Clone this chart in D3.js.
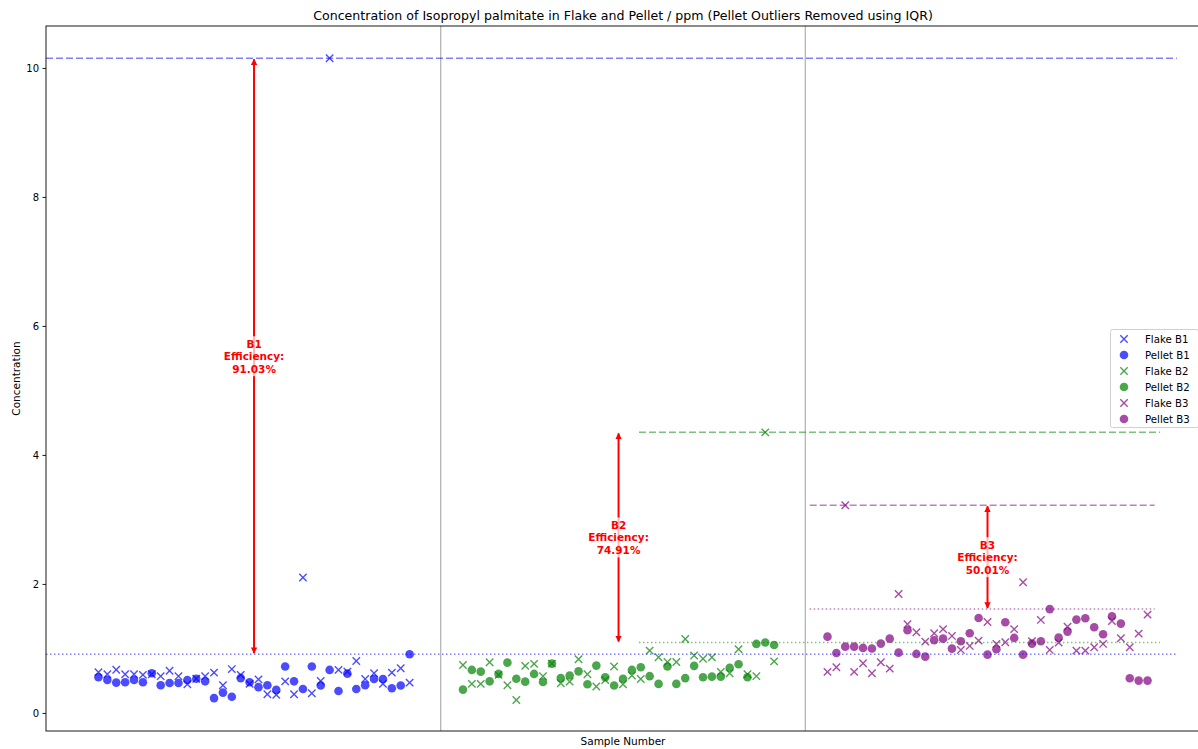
<!DOCTYPE html>
<html>
<head>
<meta charset="utf-8">
<script src="https://cdn.jsdelivr.net/npm/d3@7/dist/d3.min.js"></script>
<style>
  html, body { margin: 0; padding: 0; background: #fff; }
  svg { display: block; font-family: "DejaVu Sans", sans-serif; }
</style>
</head>
<body>
<svg id="chart" width="1198" height="749"></svg>
<script>
// Concentration readings per sample (ppm)
const batches = ["B1", "B2", "B3"];
const flakeB1 = [0.63, 0.60, 0.67, 0.60, 0.60, 0.59, 0.60, 0.57, 0.655, 0.57, 0.445, 0.53, 0.57, 0.625, 0.43, 0.68, 0.59, 0.45, 0.52, 0.29, 0.28, 0.49, 0.29, 2.10, 0.305, 0.495, 10.15, 0.667, 0.64, 0.806, 0.527, 0.615, 0.45, 0.625, 0.693, 0.47];
const pelletB1 = [0.553, 0.51, 0.47, 0.475, 0.51, 0.475, 0.615, 0.43, 0.465, 0.465, 0.51, 0.53, 0.49, 0.23, 0.315, 0.25, 0.54, 0.475, 0.40, 0.43, 0.357, 0.72, 0.49, 0.372, 0.72, 0.425, 0.667, 0.34, 0.61, 0.372, 0.43, 0.527, 0.527, 0.383, 0.425, 0.9105];
const flakeB2 = [0.744, 0.45, 0.45, 0.786, 0.59, 0.43, 0.20, 0.73, 0.76, 0.57, 0.765, 0.46, 0.485, 0.832, 0.60, 0.41, 0.51, 0.72, 0.445, 0.58, 0.527, 0.966, 0.863, 0.79, 0.79, 1.147, 0.89, 0.84, 0.863, 0.636, 0.615, 0.987, 0.60, 0.57, 4.35, 0.80];
const pelletB2 = [0.362, 0.667, 0.64, 0.49, 0.605, 0.78, 0.53, 0.485, 0.605, 0.48, 0.765, 0.54, 0.58, 0.645, 0.445, 0.734, 0.553, 0.425, 0.53, 0.667, 0.708, 0.57, 0.45, 0.72, 0.45, 0.54, 0.73, 0.553, 0.563, 0.563, 0.70, 0.755, 0.553, 1.07, 1.0914, 1.054];
const flakeB3 = [0.636, 0.708, 3.22, 0.636, 0.77, 0.615, 0.786, 0.687, 1.845, 1.375, 1.251, 1.106, 1.235, 1.30, 1.194, 0.977, 1.039, 1.121, 1.41, 1.07, 1.096, 1.30, 2.026, 1.111, 1.442, 0.977, 1.09, 1.338, 0.966, 0.966, 1.018, 1.07, 1.426, 1.158, 1.018, 1.229, 1.524];
const pelletB3 = [1.183, 0.93, 1.028, 1.028, 1.008, 1.0, 1.075, 1.152, 0.935, 1.282, 0.915, 0.873, 1.127, 1.152, 0.997, 1.111, 1.235, 1.473, 0.904, 0.987, 1.406, 1.163, 0.904, 1.075, 1.111, 1.6097, 1.168, 1.261, 1.447, 1.468, 1.328, 1.22, 1.499, 1.385, 0.538, 0.501, 0.501];
// first sample number of each batch on the shared axis
const batchStart = [0, 41, 82];
// sample numbers where the batch separators sit
const separators = [38.5, 79.5];
// sample-number span of each batch's max reference lines
const refSpan = [[-5.9, 121.3], [60.8, 119.4], [80.0, 118.8]];
// sample number where each efficiency arrow is drawn
const arrowAt = [17.5, 58.5, 100];
const yTicks = [0, 2, 4, 6, 8, 10];

const colors = ["#0000ff", "#008000", "#800080"];
const flakes = [flakeB1, flakeB2, flakeB3];
const pellets = [pelletB1, pelletB2, pelletB3];

const svg = d3.select("#chart");
const M = { left: 46, top: 26, right: 1200, bottom: 731 };

const x = d3.scaleLinear().domain([-5.9, 123.9]).range([M.left, M.right]);
const y = d3.scaleLinear().domain([-0.28, 10.65]).range([M.bottom, M.top]);

svg.append("defs").append("clipPath").attr("id", "plot")
  .append("rect").attr("x", M.left).attr("y", M.top)
  .attr("width", M.right - M.left).attr("height", M.bottom - M.top);
const defs = svg.select("defs");
defs.append("marker").attr("id", "head")
  .attr("viewBox", "0 0 10 10").attr("refX", 9).attr("refY", 5)
  .attr("markerWidth", 3.2).attr("markerHeight", 3.6)
  .attr("markerUnits", "strokeWidth")
  .attr("orient", "auto-start-reverse")
  .append("path").attr("d", "M0,0 L10,5 L0,10 z").attr("fill", "red");

const plot = svg.append("g").attr("clip-path", "url(#plot)");

// batch separators
plot.selectAll("line.sep").data(separators).join("line")
  .attr("x1", d => x(d)).attr("x2", d => x(d))
  .attr("y1", M.top).attr("y2", M.bottom)
  .attr("stroke", "#a8a8a8").attr("stroke-width", 1.1);

// points
const xs = (b, i) => x(batchStart[b] + i);
batches.forEach((name, b) => {
  const c = colors[b];
  plot.append("g").selectAll("path").data(flakes[b]).join("path")
    .attr("transform", (d, i) => `translate(${xs(b, i)},${y(d)})`)
    .attr("d", "M-3.7,-3.7L3.7,3.7M-3.7,3.7L3.7,-3.7")
    .attr("stroke", c).attr("stroke-width", 1.4).attr("fill", "none")
    .attr("stroke-opacity", 0.7);
  plot.append("g").selectAll("circle").data(pellets[b]).join("circle")
    .attr("cx", (d, i) => xs(b, i)).attr("cy", d => y(d)).attr("r", 4.3)
    .attr("fill", c).attr("fill-opacity", 0.7);
});

// max reference lines and efficiency arrows
batches.forEach((name, b) => {
  const c = colors[b];
  const fMax = d3.max(flakes[b]);
  const pMax = d3.max(pellets[b]);
  const [s0, s1] = refSpan[b];
  plot.append("line").attr("x1", x(s0)).attr("x2", x(s1))
    .attr("y1", y(fMax)).attr("y2", y(fMax))
    .attr("stroke", c).attr("stroke-opacity", 0.5).attr("stroke-width", 1.5)
    .attr("stroke-dasharray", "7,3");
  plot.append("line").attr("x1", x(s0)).attr("x2", x(s1))
    .attr("y1", y(pMax)).attr("y2", y(pMax))
    .attr("stroke", c).attr("stroke-opacity", 0.5).attr("stroke-width", 1.5)
    .attr("stroke-dasharray", "1.5,2.5");

  const ax = x(arrowAt[b]);
  plot.append("line").attr("x1", ax).attr("x2", ax)
    .attr("y1", y(pMax) - 1).attr("y2", y(fMax) + 1)
    .attr("stroke", "red").attr("stroke-width", 2)
    .attr("marker-start", "url(#head)").attr("marker-end", "url(#head)");

  const eff = (1 - pMax / fMax) * 100;
  const lines = [name, "Efficiency:", eff.toFixed(2) + "%"];
  const my = y((fMax + pMax) / 2);
  const g = svg.append("g");
  const bw = 64, bh = 40;
  g.append("rect").attr("x", ax - bw / 2).attr("y", my - bh / 2)
    .attr("width", bw).attr("height", bh)
    .attr("fill", "#fff").attr("fill-opacity", 0.7);
  g.selectAll("text").data(lines).join("text")
    .attr("x", ax).attr("y", (d, i) => my + (i - 1) * 12.5 + 4)
    .attr("text-anchor", "middle").attr("fill", "red")
    .attr("font-weight", "bold").attr("font-size", 10.5)
    .text(d => d);
});

// axes frame
svg.append("rect").attr("x", M.left).attr("y", M.top)
  .attr("width", M.right - M.left).attr("height", M.bottom - M.top)
  .attr("fill", "none").attr("stroke", "#000").attr("stroke-width", 0.9);

const yAxis = svg.append("g").attr("transform", `translate(${M.left},0)`)
  .call(d3.axisLeft(y).tickValues(yTicks).tickSize(3.5).tickPadding(3.5).tickFormat(d3.format("d")));
yAxis.select(".domain").remove();
yAxis.selectAll("text").attr("font-size", 10).attr("fill", "#000")
  .attr("font-family", "DejaVu Sans, sans-serif");
yAxis.selectAll("line").attr("stroke", "#000").attr("stroke-width", 0.9);

svg.append("text").attr("x", (M.left + M.right) / 2).attr("y", 20)
  .attr("text-anchor", "middle").attr("font-size", 12.6).attr("fill", "#000")
  .text("Concentration of Isopropyl palmitate in Flake and Pellet / ppm (Pellet Outliers Removed using IQR)");
svg.append("text").attr("x", (M.left + M.right) / 2).attr("y", 745)
  .attr("text-anchor", "middle").attr("font-size", 10.5).attr("fill", "#000")
  .text("Sample Number");
svg.append("text").attr("transform", `translate(20,${(M.top + M.bottom) / 2}) rotate(-90)`)
  .attr("text-anchor", "middle").attr("font-size", 10.5).attr("fill", "#000")
  .text("Concentration");

// legend
const legendItems = [];
batches.forEach((name, b) => {
  legendItems.push({ label: "Flake " + name, color: colors[b], kind: "x" });
  legendItems.push({ label: "Pellet " + name, color: colors[b], kind: "o" });
});
const lg = svg.append("g").attr("transform", "translate(1110,329)");
lg.append("rect").attr("x", 0.5).attr("y", 0.5).attr("width", 88).attr("height", 98)
  .attr("rx", 2).attr("fill", "#fff").attr("fill-opacity", 0.8)
  .attr("stroke", "#d0d0d0").attr("stroke-width", 1);
const li = lg.selectAll("g.item").data(legendItems).join("g")
  .attr("transform", (d, i) => `translate(0,${10 + i * 16})`);
li.filter(d => d.kind === "x").append("path")
  .attr("d", "M10.3,-3.7L17.7,3.7M10.3,3.7L17.7,-3.7")
  .attr("stroke", d => d.color).attr("stroke-opacity", 0.7).attr("stroke-width", 1.4);
li.filter(d => d.kind === "o").append("circle")
  .attr("cx", 14).attr("cy", 0).attr("r", 4.3)
  .attr("fill", d => d.color).attr("fill-opacity", 0.7);
li.append("text").attr("x", 35).attr("y", 3.6).attr("font-size", 10.2).attr("fill", "#000")
  .text(d => d.label);
</script>
</body>
</html>
